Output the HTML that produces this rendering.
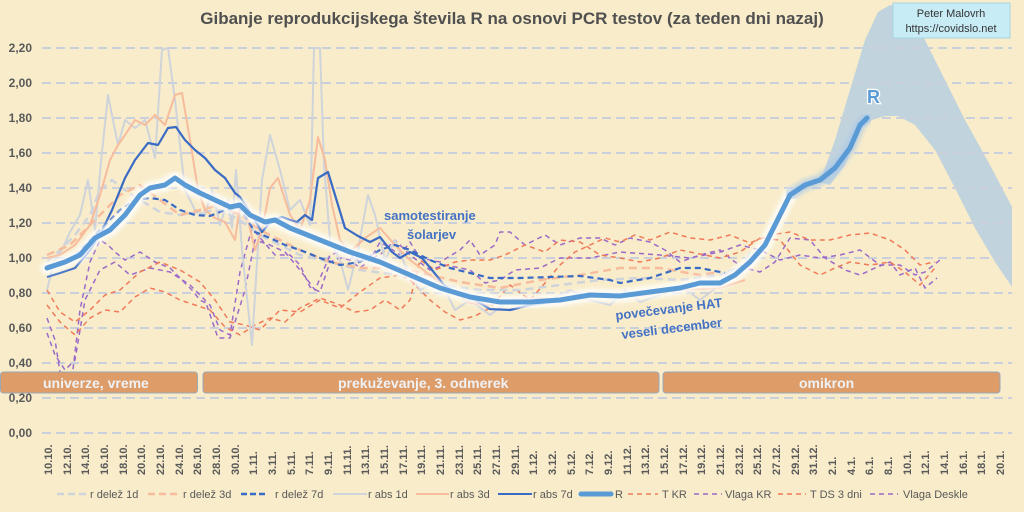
<!DOCTYPE html>
<html><head><meta charset="utf-8"><style>
html,body{margin:0;padding:0;width:1024px;height:512px;overflow:hidden;background:#f8ecca;}
svg{display:block;font-family:"Liberation Sans",sans-serif;}
</style></head><body>
<svg width="1024" height="512" viewBox="0 0 1024 512">
<defs>
<filter id="bl" x="-5%" y="-5%" width="110%" height="110%"><feGaussianBlur stdDeviation="2"/></filter>
</defs>
<rect width="1024" height="512" fill="#f8ecca"/>
<polygon points="820,182 835,140 850,90 865,40 878,12 890,5 905,8 920,30 940,70 965,120 990,165 1012,207 1012,287 995,262 975,228 955,188 935,150 915,125 898,116 885,116 872,120 860,130 845,165 830,185" fill="#b7cfe0" opacity="0.85"/>
<g stroke="#c9d0dc" stroke-width="2" stroke-dasharray="9,5">
<line x1="42" y1="48" x2="1012" y2="48"/><line x1="42" y1="83" x2="1012" y2="83"/>
<line x1="42" y1="118" x2="1012" y2="118"/><line x1="42" y1="153" x2="1012" y2="153"/>
<line x1="42" y1="188" x2="1012" y2="188"/><line x1="42" y1="223" x2="1012" y2="223"/>
<line x1="42" y1="258" x2="1012" y2="258"/><line x1="42" y1="293" x2="1012" y2="293"/>
<line x1="42" y1="328" x2="1012" y2="328"/><line x1="42" y1="363" x2="1012" y2="363"/>
<line x1="42" y1="398" x2="1012" y2="398"/><line x1="42" y1="433" x2="1012" y2="433"/>
</g>
<g font-size="12" font-weight="bold" fill="#595959" text-anchor="end">
<text x="32" y="52">2,20</text><text x="32" y="87">2,00</text><text x="32" y="122">1,80</text>
<text x="32" y="157">1,60</text><text x="32" y="192">1,40</text><text x="32" y="227">1,20</text>
<text x="32" y="262">1,00</text><text x="32" y="297">0,80</text><text x="32" y="332">0,60</text>
<text x="32" y="367">0,40</text><text x="32" y="402">0,20</text><text x="32" y="437">0,00</text>
</g>
<text x="512" y="24" text-anchor="middle" font-size="17" font-weight="bold" fill="#505050">Gibanje reprodukcijskega števila R na osnovi PCR testov (za teden dni nazaj)</text>
<g fill="none" stroke-linejoin="round">
<polyline stroke="#9b6ac8" stroke-width="1.5" stroke-dasharray="5,4" points="47,333 55,355 65,370 75,360 85,300 100,270 115,262 130,275 150,268 170,272 190,285 205,300 218,338 230,338 245,290 255,240 270,245 285,252 300,270 315,290 330,255 345,250 360,262 380,255 395,240 410,255 430,270 445,265 470,270 485,283 500,280 515,270 540,268 560,258 590,258 620,252 660,255 690,258 720,252 740,245 760,250 780,260 800,255 820,258 840,255 860,250 880,265 900,265 915,275 925,272 940,260"/>
<polyline stroke="#9b6ac8" stroke-width="1.5" stroke-dasharray="5,4" points="47,318 55,340 62,385 72,378 80,310 90,262 100,240 108,245 115,252 125,260 140,252 155,262 170,268 180,278 192,290 200,300 210,305 220,330 230,335 240,272 252,228 262,240 275,255 290,255 300,265 310,287 320,292 330,262 340,258 350,260 360,268 370,260 380,242 390,248 400,255 410,242 420,258 440,262 460,250 470,240 480,255 495,245 500,232 510,232 525,245 545,235 560,245 580,238 600,238 615,245 630,238 650,242 665,250 680,262 700,255 720,250 735,262 745,268 760,272 775,262 790,238 810,240 825,258 845,270 860,275 875,268 890,262 900,275 915,268 925,288 937,278"/>
<polyline stroke="#f07a58" stroke-width="1.5" stroke-dasharray="5,4" points="47,305 60,322 75,335 90,318 105,310 120,312 135,297 150,288 165,292 180,300 195,305 210,310 225,327 240,335 255,325 270,318 285,322 300,308 320,298 340,305 355,312 370,310 385,300 400,310 410,300 420,260 435,270 455,262 470,260 490,260 505,255 525,245 545,252 560,240 580,242 600,255 620,258 640,262 660,258 680,250 700,254 720,258 740,252 760,238 780,240 800,265 820,275 835,268 850,262 870,265 890,262 905,272 920,285 935,268"/>
<polyline stroke="#f07a58" stroke-width="1.5" stroke-dasharray="5,4" points="47,290 60,312 75,322 90,310 105,295 120,290 140,272 160,262 180,270 200,282 215,300 230,322 245,325 260,330 280,310 300,312 320,300 340,308 360,292 380,278 400,275 410,280 430,300 445,312 460,320 475,316 490,308 510,285 530,300 545,283 560,265 575,252 590,245 605,238 620,242 635,235 650,240 670,232 690,238 710,240 730,235 750,243 770,235 790,232 810,240 830,240 850,235 870,233 890,240 905,250 920,265 935,262"/>
<polyline stroke="#cfd3da" stroke-width="2" points="47,290 55,258 62,250 70,232 80,215 88,180 95,230 101,162 108,95 118,145 125,120 135,128 145,120 155,158 162,50 168,48 175,100 185,190 195,210 205,215 212,190 220,225 228,200 232,228 236,170 242,250 252,345 262,180 270,135 280,170 290,210 300,200 310,225 314,48 320,48 324,165 330,240 340,260 348,290 358,250 368,195 375,215 385,260 395,240 405,265 420,290 440,280 455,310 470,300 490,315 510,300 530,305 550,300 570,290 590,300 610,305 625,290 640,302 660,295 680,285 700,300 720,285 730,270 740,275 750,252"/>
<polyline stroke="#cfd3da" stroke-width="2.5" stroke-dasharray="8,5" points="47,262 60,250 75,235 90,215 100,190 112,180 125,190 140,200 160,212 180,215 200,212 220,210 240,220 260,235 280,245 300,255 330,262 360,270 400,275 440,285 480,290 520,290 560,285 600,280 640,278 680,280 720,275 745,265"/>
<polyline stroke="#f7bc9c" stroke-width="2" points="47,258 60,255 75,245 90,225 100,195 110,160 118,145 125,135 135,120 145,125 155,115 165,125 175,95 182,93 190,140 198,190 205,210 215,218 225,222 235,240 240,205 248,220 255,250 262,230 270,188 278,178 290,215 300,230 310,200 318,137 325,160 332,205 340,240 350,252 365,238 380,228 395,245 410,260 430,275 450,290 470,303 490,305 510,300 540,298 570,300 600,296 640,296 680,290 720,288 745,280"/>
<polyline stroke="#f7bc9c" stroke-width="2.5" stroke-dasharray="8,5" points="47,255 70,245 100,215 120,195 140,185 160,200 180,215 200,210 220,205 240,215 260,230 280,240 300,250 330,262 360,268 400,268 430,275 460,282 500,288 540,280 580,275 620,268 660,268 700,275 720,272"/>
<polyline stroke="#3a6bc4" stroke-width="2.2" points="47,277 60,273 75,268 90,250 100,235 112,210 125,178 135,160 148,143 158,145 168,128 176,127 185,140 195,150 205,158 215,170 225,178 235,193 240,197 250,212 262,232 272,220 282,217 290,220 297,222 305,215 312,220 318,178 328,172 335,195 345,228 358,236 370,242 380,237 392,252 400,258 410,252 422,258 432,270 444,285 455,292 470,297 490,309 510,310 530,305 545,303"/>
<polyline stroke="#3a6bc4" stroke-width="2.2" stroke-dasharray="6,4" points="47,266 60,262 75,256 90,240 105,225 120,210 135,200 150,198 165,200 180,210 195,215 210,216 225,210 240,208 255,232 270,238 285,245 300,250 320,258 340,265 360,262 380,250 395,245 410,250 430,260 450,268 470,273 490,278 520,278 550,277 580,276 610,280 620,283 650,278 680,268 700,268 725,273"/>
<polyline stroke="#ffffff" stroke-width="13" opacity="0.85" filter="url(#bl)" stroke-linecap="round" points="47,268 65,262 80,255 95,238 110,230 125,215 140,195 150,188 165,185 175,178 185,185 200,193 215,200 230,207 240,205 250,215 265,222 275,220 290,228 320,240 350,252 380,262 410,275 440,288 470,297 500,302 530,302 560,300 590,295 620,296 650,292 680,288 700,283 720,283 735,275 750,262 765,245 775,225 790,195"/>
<polyline stroke="#a9c8e8" stroke-width="11" opacity="0.7" filter="url(#bl)" stroke-linecap="round" points="790,195 805,185 820,180 835,168 850,148 860,125 867,118"/>
<polyline stroke="#5b9bd5" stroke-width="5" stroke-linecap="round" points="47,268 65,262 80,255 95,238 110,230 125,215 140,195 150,188 165,185 175,178 185,185 200,193 215,200 230,207 240,205 250,215 265,222 275,220 290,228 320,240 350,252 380,262 410,275 440,288 470,297 500,302 530,302 560,300 590,295 620,296 650,292 680,288 700,283 720,283 735,275 750,262 765,245 775,225 790,195 805,185 820,180 835,168 850,148 860,125 867,118"/>
</g>
<text x="867" y="103" font-size="18" font-weight="bold" fill="#5b9bd5" stroke="#ffffff" stroke-width="2.5" paint-order="stroke">R</text>
<text x="384" y="220" font-size="13" font-weight="bold" fill="#4472c4">samotestiranje</text>
<text x="407" y="239" font-size="13" font-weight="bold" fill="#4472c4">šolarjev</text>
<text x="616" y="320" font-size="13" font-weight="bold" fill="#4472c4" transform="rotate(-7 616 320)">povečevanje HAT</text>
<text x="622" y="339" font-size="13" font-weight="bold" fill="#4472c4" transform="rotate(-7 622 339)">veseli december</text>
<g fill="#de9d68" stroke="#9aa9b8" stroke-width="1">
<rect x="0.5" y="372" width="197" height="21" rx="3"/>
<rect x="203" y="372" width="456" height="21" rx="3"/>
<rect x="663" y="372" width="337" height="21" rx="3"/>
</g>
<g font-size="14" font-weight="bold" fill="#eef2f7">
<text x="43" y="388">univerze, vreme</text>
<text x="338" y="388">prekuževanje, 3. odmerek</text>
<text x="799" y="388">omikron</text>
</g>
<rect x="893" y="3" width="117" height="35" fill="#c8ecf5" stroke="#a8d4e4"/>
<text x="951" y="17" font-size="11" text-anchor="middle" fill="#333">Peter Malovrh</text>
<text x="951" y="32" font-size="11" text-anchor="middle" fill="#333">https://covidslo.net</text>
<g font-size="11" font-weight="bold" fill="#595959">
<text transform="translate(52,475) rotate(-90)">10.10.</text>
<text transform="translate(71,475) rotate(-90)">12.10.</text>
<text transform="translate(89,475) rotate(-90)">14.10.</text>
<text transform="translate(108,475) rotate(-90)">16.10.</text>
<text transform="translate(127,475) rotate(-90)">18.10.</text>
<text transform="translate(145,475) rotate(-90)">20.10.</text>
<text transform="translate(164,475) rotate(-90)">22.10.</text>
<text transform="translate(183,475) rotate(-90)">24.10.</text>
<text transform="translate(201,475) rotate(-90)">26.10.</text>
<text transform="translate(220,475) rotate(-90)">28.10.</text>
<text transform="translate(239,475) rotate(-90)">30.10.</text>
<text transform="translate(257,475) rotate(-90)">1.11.</text>
<text transform="translate(276,475) rotate(-90)">3.11.</text>
<text transform="translate(295,475) rotate(-90)">5.11.</text>
<text transform="translate(313,475) rotate(-90)">7.11.</text>
<text transform="translate(332,475) rotate(-90)">9.11.</text>
<text transform="translate(351,475) rotate(-90)">11.11.</text>
<text transform="translate(369,475) rotate(-90)">13.11.</text>
<text transform="translate(388,475) rotate(-90)">15.11.</text>
<text transform="translate(407,475) rotate(-90)">17.11.</text>
<text transform="translate(425,475) rotate(-90)">19.11.</text>
<text transform="translate(444,475) rotate(-90)">21.11.</text>
<text transform="translate(463,475) rotate(-90)">23.11.</text>
<text transform="translate(481,475) rotate(-90)">25.11.</text>
<text transform="translate(500,475) rotate(-90)">27.11.</text>
<text transform="translate(519,475) rotate(-90)">29.11.</text>
<text transform="translate(537,475) rotate(-90)">1.12.</text>
<text transform="translate(556,475) rotate(-90)">3.12.</text>
<text transform="translate(575,475) rotate(-90)">5.12.</text>
<text transform="translate(593,475) rotate(-90)">7.12.</text>
<text transform="translate(612,475) rotate(-90)">9.12.</text>
<text transform="translate(631,475) rotate(-90)">11.12.</text>
<text transform="translate(649,475) rotate(-90)">13.12.</text>
<text transform="translate(668,475) rotate(-90)">15.12.</text>
<text transform="translate(687,475) rotate(-90)">17.12.</text>
<text transform="translate(705,475) rotate(-90)">19.12.</text>
<text transform="translate(724,475) rotate(-90)">21.12.</text>
<text transform="translate(743,475) rotate(-90)">23.12.</text>
<text transform="translate(761,475) rotate(-90)">25.12.</text>
<text transform="translate(780,475) rotate(-90)">27.12.</text>
<text transform="translate(799,475) rotate(-90)">29.12.</text>
<text transform="translate(817,475) rotate(-90)">31.12.</text>
<text transform="translate(836,475) rotate(-90)">2.1.</text>
<text transform="translate(855,475) rotate(-90)">4.1.</text>
<text transform="translate(873,475) rotate(-90)">6.1.</text>
<text transform="translate(892,475) rotate(-90)">8.1.</text>
<text transform="translate(911,475) rotate(-90)">10.1.</text>
<text transform="translate(929,475) rotate(-90)">12.1.</text>
<text transform="translate(948,475) rotate(-90)">14.1.</text>
<text transform="translate(967,475) rotate(-90)">16.1.</text>
<text transform="translate(985,475) rotate(-90)">18.1.</text>
<text transform="translate(1004,475) rotate(-90)">20.1.</text>
</g>
<g font-size="11" fill="#595959">
<line x1="57" y1="494" x2="87" y2="494" stroke="#cfd3da" stroke-width="2.5" stroke-dasharray="7,4"/><text x="90" y="498">r delež 1d</text>
<line x1="148" y1="494" x2="180" y2="494" stroke="#f7bc9c" stroke-width="2.5" stroke-dasharray="7,4"/><text x="183" y="498">r delež 3d</text>
<line x1="241" y1="494" x2="268" y2="494" stroke="#3a6bc4" stroke-width="2.5" stroke-dasharray="6,3"/><text x="275" y="498">r delež 7d</text>
<line x1="333" y1="494" x2="367" y2="494" stroke="#cfd3da" stroke-width="2"/><text x="368" y="498">r abs 1d</text>
<line x1="416" y1="494" x2="449" y2="494" stroke="#f7bc9c" stroke-width="2"/><text x="450" y="498">r abs 3d</text>
<line x1="498" y1="494" x2="532" y2="494" stroke="#3a6bc4" stroke-width="2"/><text x="533" y="498">r abs 7d</text>
<line x1="581" y1="494" x2="611" y2="494" stroke="#5b9bd5" stroke-width="5" stroke-linecap="round"/><text x="615" y="498">R</text>
<line x1="628" y1="494" x2="658" y2="494" stroke="#f07a58" stroke-width="1.5" stroke-dasharray="5,4"/><text x="662" y="498">T KR</text>
<line x1="694" y1="494" x2="722" y2="494" stroke="#9b6ac8" stroke-width="1.5" stroke-dasharray="5,4"/><text x="725" y="498">Vlaga KR</text>
<line x1="778" y1="494" x2="806" y2="494" stroke="#f07a58" stroke-width="1.5" stroke-dasharray="5,4"/><text x="810" y="498">T DS 3 dni</text>
<line x1="870" y1="494" x2="898" y2="494" stroke="#9b6ac8" stroke-width="1.5" stroke-dasharray="5,4"/><text x="903" y="498">Vlaga Deskle</text>
</g>
</svg>
</body></html>
